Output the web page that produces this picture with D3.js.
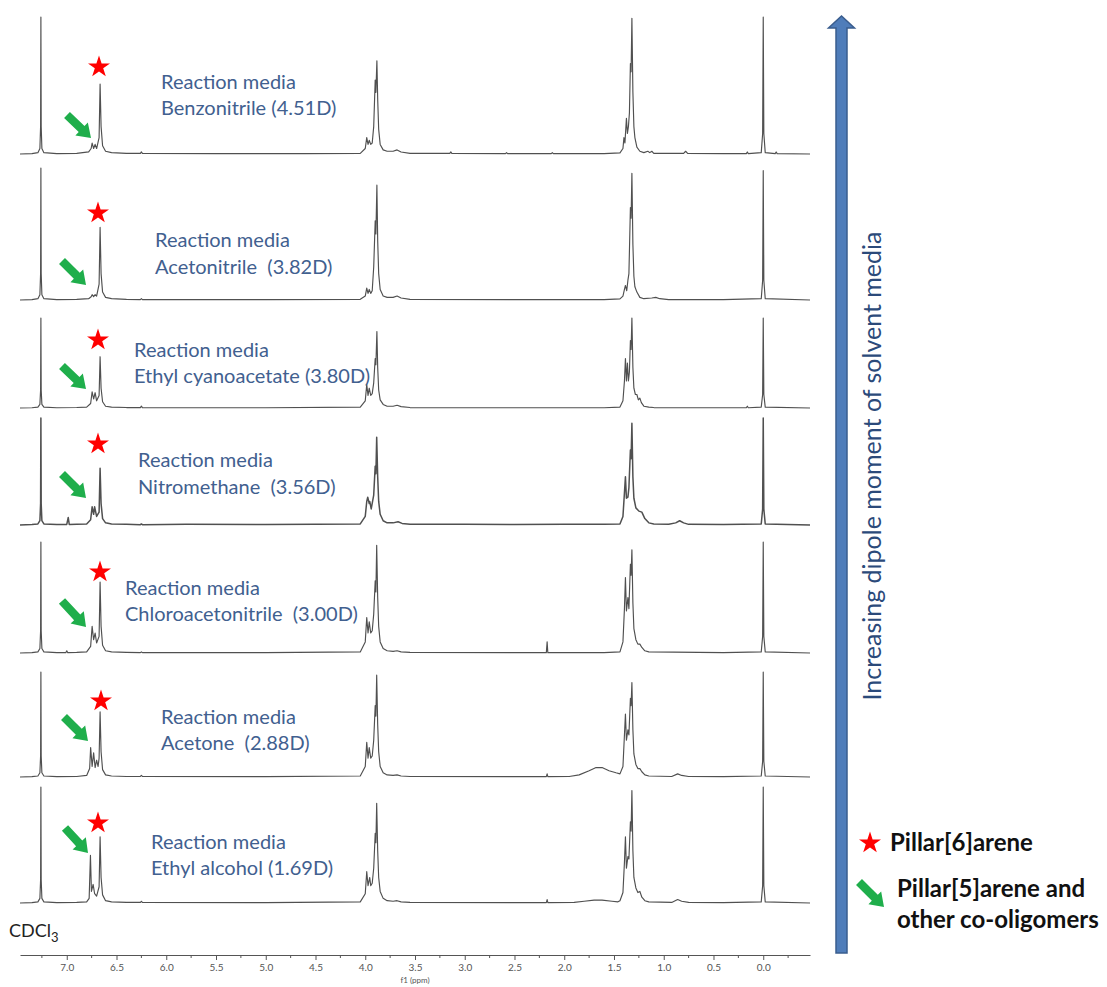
<!DOCTYPE html>
<html>
<head>
<meta charset="utf-8">
<script src="https://cdn.jsdelivr.net/npm/d3@7"></script>
<style>
  body { margin: 0; background: #fff; }
  svg { display: block; }
  text { font-family: Lato, "Open Sans", sans-serif; }
</style>
</head>
<body>
<svg id="chart" width="1107" height="987"></svg>
<script>
// ---- 1H NMR traces, [chemical shift (ppm), intensity (% of tallest line)] ----
const benzonitrile = [
  [7.47,0],[7.35,0.3],[7.29,1],[7.27,4],[7.263,20],[7.26,100],[7.257,20],[7.25,4],[7.23,1],[7.10,0.3],
  [6.90,0.5],[6.78,1.5],[6.755,4],[6.745,8],[6.73,4],[6.715,7],[6.70,4],[6.675,12],[6.665,51],[6.655,20],[6.64,6],[6.61,2],[6.55,1],[6.40,0.5],
  [6.26,0.5],[6.25,1.5],[6.24,0.5],[5.50,0.3],[4.60,0.3],
  [4.05,0.5],[4.00,4],[3.985,12],[3.972,7],[3.96,10],[3.945,7],[3.93,8],[3.915,20],[3.90,54],[3.893,45],[3.883,68],[3.875,40],[3.865,18],[3.85,7],[3.82,3],[3.78,2],[3.72,2],[3.68,3],[3.64,1.5],[3.55,0.5],
  [3.15,0.5],[3.14,1.5],[3.13,0.5],[2.59,0.3],[2.58,1],[2.57,0.3],[2.13,0.3],[2.12,1],[2.11,0.3],[1.60,0.3],
  [1.44,0.8],[1.41,4],[1.40,12],[1.39,8],[1.375,26],[1.365,15],[1.355,20],[1.345,30],[1.335,66],[1.328,60],[1.32,99],[1.31,45],[1.30,20],[1.29,12],[1.27,5],[1.24,2],[1.20,1],
  [1.16,2],[1.14,1],[1.12,2],[1.10,0.5],[0.80,0.5],[0.78,2],[0.76,0.5],[0.40,0.3],[0.17,0.3],[0.16,1.5],[0.15,0.3],
  [0.02,1],[0.006,15],[0.0,100],[-0.006,15],[-0.02,1],[-0.12,0.3],[-0.13,1.5],[-0.14,0.3],[-0.47,0]
];
const acetonitrile = [
  [7.47,0],[7.35,0.3],[7.29,1],[7.27,4],[7.263,20],[7.26,100],[7.257,20],[7.25,4],[7.23,1],[7.10,0.3],
  [6.90,0.5],[6.78,1],[6.755,2.5],[6.745,4],[6.73,2.5],[6.715,4],[6.70,3],[6.675,12],[6.665,55],[6.655,20],[6.64,6],[6.61,2],[6.55,1],[6.40,0.5],
  [6.26,0.3],[6.25,1],[6.24,0.3],[5.00,0.3],
  [4.05,0.5],[4.00,3],[3.985,9],[3.972,5],[3.96,8],[3.945,5],[3.93,7],[3.915,25],[3.90,60],[3.893,50],[3.883,87],[3.875,45],[3.865,20],[3.85,8],[3.82,3],[3.78,2],[3.72,2],[3.68,3],[3.64,1.5],[3.55,0.5],
  [2.50,0.3],[1.60,0.3],
  [1.44,0.8],[1.41,3],[1.395,8],[1.385,11],[1.372,7],[1.36,15],[1.35,20],[1.335,70],[1.328,62],[1.32,96],[1.31,42],[1.30,18],[1.29,10],[1.27,6],[1.24,2],[1.20,1],
  [1.12,1.5],[1.08,2],[1.04,1],[0.95,0.3],[0.40,0.3],
  [0.02,1],[0.006,15],[0.0,98],[-0.006,15],[-0.02,1],[-0.47,0]
];
const ethylCyanoacetate = [
  [7.47,0],[7.35,0.3],[7.29,1],[7.27,4],[7.263,20],[7.26,100],[7.257,20],[7.25,4],[7.23,1],[7.10,0.3],
  [6.90,0.5],[6.80,1],[6.76,5],[6.745,18],[6.73,10],[6.715,17],[6.70,8],[6.675,14],[6.665,57],[6.655,22],[6.64,7],[6.61,2],[6.55,1],[6.40,0.5],
  [6.26,0.5],[6.25,2],[6.24,0.5],[5.00,0.3],
  [4.05,1],[4.00,8],[3.985,26],[3.972,14],[3.96,22],[3.945,14],[3.93,16],[3.915,28],[3.90,55],[3.893,48],[3.883,85],[3.875,45],[3.865,20],[3.85,9],[3.82,4],[3.78,2],[3.72,2],[3.68,3],[3.64,1.5],[3.55,0.5],
  [2.50,0.3],[1.60,0.3],
  [1.44,1],[1.41,8],[1.395,30],[1.385,55],[1.375,30],[1.365,50],[1.355,30],[1.345,40],[1.335,75],[1.328,65],[1.32,100],[1.31,45],[1.30,22],[1.285,15],[1.27,15],[1.255,9],[1.24,11],[1.225,6],[1.20,2],[1.15,1],[1.10,0.5],
  [0.40,0.3],[0.17,0.3],[0.16,2],[0.15,0.3],
  [0.02,1],[0.006,15],[0.0,100],[-0.006,15],[-0.02,1],[-0.47,0]
];
const nitromethane = [
  [7.47,0],[7.35,0.5],[7.29,1],[7.27,4],[7.263,20],[7.26,100],[7.257,20],[7.25,4],[7.23,1],[7.10,0.5],
  [7.00,0.5],[6.985,7],[6.975,0.5],
  [6.90,0.8],[6.80,1],[6.76,5],[6.745,17],[6.73,10],[6.72,17],[6.70,8],[6.675,12],[6.665,53],[6.655,20],[6.64,6],[6.61,2],[6.55,1],[6.40,0.8],
  [6.26,0.3],[6.25,1],[6.24,0.3],[5.80,0.6],[5.00,0.5],[4.50,0.6],
  [4.05,1],[4.00,8],[3.985,22],[3.975,26],[3.96,20],[3.955,22],[3.94,15],[3.915,28],[3.90,55],[3.893,48],[3.885,82],[3.875,45],[3.865,22],[3.85,10],[3.82,4],[3.78,2],[3.72,2],[3.67,3],[3.63,1.5],[3.55,0.8],
  [3.00,0.6],[2.50,0.5],[2.00,0.6],[1.60,0.6],
  [1.44,1],[1.41,8],[1.395,30],[1.385,45],[1.375,25],[1.36,26],[1.35,35],[1.335,70],[1.328,62],[1.32,95],[1.31,45],[1.30,25],[1.28,16],[1.25,13],[1.22,12],[1.19,6],[1.15,2],[1.10,1],
  [0.95,0.6],[0.88,2],[0.84,4],[0.80,2],[0.75,0.6],[0.40,0.5],
  [0.02,1],[0.006,15],[0.0,100],[-0.006,15],[-0.02,1],[-0.47,0]
];
const chloroacetonitrile = [
  [7.47,0],[7.35,0.3],[7.29,1],[7.27,4],[7.263,20],[7.26,100],[7.257,20],[7.25,4],[7.23,1],[7.10,0.3],
  [7.01,0.3],[7.00,2],[6.99,0.3],
  [6.90,0.5],[6.80,1],[6.76,6],[6.745,24],[6.73,12],[6.715,18],[6.70,9],[6.675,15],[6.665,64],[6.655,24],[6.64,7],[6.61,2],[6.55,1],[6.40,0.5],
  [6.26,0.3],[6.25,1],[6.24,0.3],[5.00,0.3],
  [4.05,1],[4.00,10],[3.985,32],[3.972,18],[3.96,28],[3.945,18],[3.93,20],[3.915,35],[3.90,65],[3.893,55],[3.885,97],[3.875,50],[3.865,24],[3.85,10],[3.82,4],[3.78,2],[3.72,1.5],[3.68,2],[3.64,1],[3.55,0.5],
  [2.50,0.3],[2.18,0.3],[2.172,10],[2.165,0.3],[1.60,0.3],
  [1.44,1],[1.41,10],[1.395,40],[1.385,68],[1.375,38],[1.36,50],[1.35,40],[1.335,80],[1.328,70],[1.32,93],[1.31,45],[1.30,22],[1.28,12],[1.26,8],[1.24,8],[1.22,5],[1.19,2],[1.15,1],
  [0.40,0.3],
  [0.02,1],[0.006,15],[0.0,100],[-0.006,15],[-0.02,1],[-0.47,0]
];
const acetone = [
  [7.47,0],[7.35,0.3],[7.29,1],[7.27,4],[7.263,20],[7.26,100],[7.257,20],[7.25,4],[7.23,1],[7.10,0.3],
  [6.90,0.5],[6.80,1.5],[6.77,8],[6.76,28],[6.745,10],[6.73,23],[6.715,9],[6.70,16],[6.685,10],[6.675,18],[6.665,62],[6.655,24],[6.64,7],[6.61,2],[6.55,1],[6.40,0.5],
  [6.26,0.5],[6.25,1.5],[6.24,0.5],[5.00,0.3],
  [4.05,1],[4.00,10],[3.985,33],[3.972,18],[3.96,28],[3.945,18],[3.93,20],[3.915,35],[3.90,68],[3.893,58],[3.885,97],[3.875,50],[3.865,24],[3.85,10],[3.82,4],[3.78,2],[3.72,1.5],[3.68,2],[3.64,1],[3.55,0.5],
  [2.50,0.3],[2.18,0.3],[2.172,3],[2.165,0.3],
  [1.95,0.5],[1.85,2],[1.75,6],[1.68,9],[1.62,9],[1.55,6],[1.48,4],
  [1.44,3],[1.41,10],[1.395,40],[1.385,60],[1.375,35],[1.36,45],[1.35,40],[1.335,75],[1.328,68],[1.32,90],[1.31,45],[1.30,22],[1.28,12],[1.26,8],[1.24,8],[1.22,5],[1.19,2],[1.15,1],
  [0.92,0.5],[0.86,3],[0.82,1.5],[0.75,0.5],[0.40,0.3],
  [0.02,1],[0.006,15],[0.0,100],[-0.006,15],[-0.02,1],[-0.47,0]
];
const ethylAlcohol = [
  [7.47,0],[7.35,0.3],[7.29,1],[7.27,4],[7.263,20],[7.26,100],[7.257,20],[7.25,4],[7.23,1],[7.10,0.3],
  [6.90,0.5],[6.80,1],[6.775,4],[6.762,41],[6.752,10],[6.735,16],[6.72,8],[6.70,6],[6.675,14],[6.665,57],[6.655,22],[6.64,7],[6.61,2],[6.55,1],[6.40,0.5],
  [6.26,0.5],[6.25,1.5],[6.24,0.5],[5.00,0.3],
  [4.05,1],[4.00,8],[3.985,27],[3.972,15],[3.955,22],[3.945,15],[3.93,17],[3.915,30],[3.90,60],[3.893,52],[3.885,86],[3.875,45],[3.865,22],[3.85,10],[3.82,4],[3.78,2],[3.72,1.5],[3.68,2],[3.64,1],[3.55,0.5],
  [2.50,0.3],[2.18,0.3],[2.172,3],[2.165,0.3],
  [1.90,0.5],[1.80,1.5],[1.70,2.5],[1.62,2.5],[1.52,1.5],[1.46,1],
  [1.44,2],[1.41,9],[1.395,35],[1.385,57],[1.375,30],[1.36,40],[1.35,38],[1.335,70],[1.328,62],[1.32,97],[1.31,45],[1.30,22],[1.28,13],[1.26,9],[1.24,10],[1.22,5],[1.19,2],[1.15,1],
  [0.92,0.5],[0.86,3],[0.82,1.5],[0.75,0.5],[0.40,0.3],
  [0.02,1],[0.006,15],[0.0,100],[-0.006,15],[-0.02,1],[-0.47,0]
];

// Reaction solvents, top (most polar) to bottom
const spectra = [benzonitrile, acetonitrile, ethylCyanoacetate, nitromethane, chloroacetonitrile, acetone, ethylAlcohol];
const mediaLabels = [
  "Benzonitrile (4.51D)",
  "Acetonitrile  (3.82D)",
  "Ethyl cyanoacetate (3.80D)",
  "Nitromethane  (3.56D)",
  "Chloroacetonitrile  (3.00D)",
  "Acetone  (2.88D)",
  "Ethyl alcohol (1.69D)"
];
const majorTicks = [7.0, 6.5, 6.0, 5.5, 5.0, 4.5, 4.0, 3.5, 3.0, 2.5, 2.0, 1.5, 1.0, 0.5, 0.0];
const minorTicks = [7.25, 6.75, 6.25, 5.75, 5.25, 4.75, 4.25, 3.75, 3.25, 2.75, 2.25, 1.75, 1.25, 0.75, 0.25, -0.25];
const tickLabels = ["7.0","6.5","6.0","5.5","5.0","4.5","4.0","3.5","3.0","2.5","2.0","1.5","1.0","0.5","0.0"];
const legendItems = ["Pillar[6]arene", "Pillar[5]arene and", "other co-oligomers"];
const trendTitle = "Increasing dipole moment of solvent media";

// ---- layout ----
const svg = d3.select("#chart");
const x = d3.scaleLinear().domain([7.47, -0.47]).range([20, 810]);

// baseline y and full-scale height of each stacked trace
const panelBase   = [154, 300, 408, 525, 653, 777, 903];
const panelHeight = [137, 132,  90, 107, 111, 105, 116];
// annotation anchors per trace
const starPos  = [[99,67],[98,213],[98,340],[98,444],[100,572],[101,701],[98,823]];
const arrowPos = [[[67,115],[91,138]],[[62,261],[86,285]],[[62,366],[86,389]],[[62,474],[86,498]],[[62,601],[86,627]],[[64,717],[88,741]],[[65,828],[88,853]]];
const textPos  = [[161,82,108],[155,240,267],[134,350,376],[138,460,487],[125,588,614],[161,717,743],[151,842,868]];

const textBlue = "#41608f";
const starColor = "#ff0000";
const arrowGreen = "#1fae4b";

function greenArrow(g, from, to) {
  const dx = to[0] - from[0], dy = to[1] - from[1];
  const L = Math.hypot(dx, dy), ang = Math.atan2(dy, dx) * 180 / Math.PI;
  const sw = 4.2, hw = 9, hl = 13;
  const pts = [[0,-sw],[L-hl,-sw],[L-hl,-hw],[L,0],[L-hl,hw],[L-hl,sw],[0,sw]];
  g.append("polygon")
    .attr("points", pts.map(p => p.join(",")).join(" "))
    .attr("transform", `translate(${from[0]},${from[1]}) rotate(${ang})`)
    .attr("fill", arrowGreen);
}
const star = d3.symbol().type(d3.symbolStar).size(150);

spectra.forEach((data, i) => {
  const y = d3.scaleLinear().domain([0, 100]).range([panelBase[i], panelBase[i] - panelHeight[i]]);
  const line = d3.line().x(d => x(d[0])).y(d => y(d[1]));
  const g = svg.append("g").attr("class", "trace");
  g.append("path")
    .datum(data)
    .attr("d", line)
    .attr("fill", "none")
    .attr("stroke", "#505050")
    .attr("stroke-width", i === 3 ? 1.5 : 1.15)
    .attr("stroke-linejoin", "round");

  g.append("path")
    .attr("d", star())
    .attr("transform", `translate(${starPos[i][0]},${starPos[i][1]})`)
    .attr("fill", starColor);
  greenArrow(g, arrowPos[i][0], arrowPos[i][1]);

  const t = textPos[i];
  g.append("text").attr("x", t[0]).attr("y", t[1]).attr("dy", "0.35em")
    .attr("font-size", 20).attr("fill", textBlue).text("Reaction media");
  g.append("text").attr("x", t[0]).attr("y", t[2]).attr("dy", "0.35em")
    .attr("font-size", 20).attr("fill", textBlue)
    .style("white-space", "pre").text(mediaLabels[i]);
});

// solvent reference label
const cd = svg.append("text").attr("x", 9).attr("y", 931).attr("dy", "0.35em")
  .attr("font-size", 18).attr("fill", "#222");
cd.append("tspan").text("CDCl");
cd.append("tspan").attr("font-size", 13).attr("dy", 5).text("3");

// ppm axis
const axisY = 955;
const axis = d3.axisBottom(x)
  .tickValues(majorTicks)
  .tickFormat((d, i) => tickLabels[i])
  .tickSize(5).tickSizeOuter(0).tickPadding(4);
const ag = svg.append("g").attr("transform", `translate(0,${axisY})`).call(axis);
ag.select(".domain").attr("stroke", "#555");
ag.selectAll(".tick line").attr("stroke", "#555");
ag.selectAll(".tick text").attr("font-size", 10).attr("fill", "#555")
  .attr("font-family", "Lato, sans-serif");
ag.selectAll(".minor").data(minorTicks).enter().append("line")
  .attr("class", "minor")
  .attr("x1", d => x(d)).attr("x2", d => x(d))
  .attr("y1", 0).attr("y2", 3).attr("stroke", "#555");
svg.append("text").attr("x", x(3.5)).attr("y", 983).attr("text-anchor", "middle")
  .attr("font-size", 8).attr("fill", "#555").text("f1 (ppm)");

// polarity trend arrow
const arrowX = 841.5, shaftHalf = 5.5, headHalf = 13, tipY = 16, headBase = 28, tailY = 953;
svg.append("polygon")
  .attr("points", [
    [arrowX - shaftHalf, tailY], [arrowX - shaftHalf, headBase], [arrowX - headHalf, headBase],
    [arrowX, tipY], [arrowX + headHalf, headBase], [arrowX + shaftHalf, headBase], [arrowX + shaftHalf, tailY]
  ].map(p => p.join(",")).join(" "))
  .attr("fill", "#4f7dba").attr("stroke", "#3a5d8e").attr("stroke-width", 1.5);
svg.append("text")
  .attr("transform", "translate(872,466) rotate(-90)")
  .attr("text-anchor", "middle").attr("dy", "0.35em")
  .attr("font-size", 25).attr("fill", "#2b4a7a").text(trendTitle);

// legend
svg.append("path").attr("d", star()).attr("transform", "translate(870,843)").attr("fill", starColor);
svg.append("text").attr("x", 890).attr("y", 843).attr("dy", "0.35em")
  .attr("font-size", 24).attr("font-weight", "bold").attr("fill", "#111").text(legendItems[0]);
greenArrow(svg, [859, 882], [884, 907]);
svg.append("text").attr("x", 897).attr("y", 889).attr("dy", "0.35em")
  .attr("font-size", 24).attr("font-weight", "bold").attr("fill", "#111").text(legendItems[1]);
svg.append("text").attr("x", 897).attr("y", 920).attr("dy", "0.35em")
  .attr("font-size", 24).attr("font-weight", "bold").attr("fill", "#111").text(legendItems[2]);
</script>
</body>
</html>
